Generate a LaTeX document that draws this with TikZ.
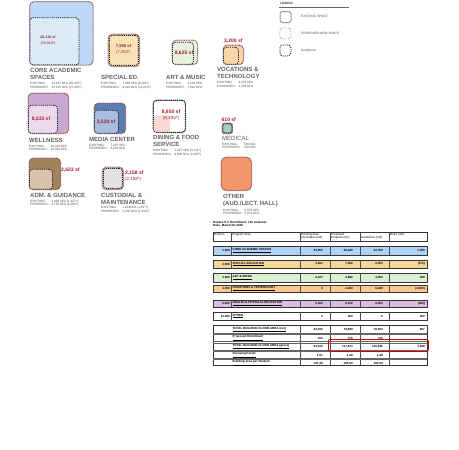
\documentclass[tikz,border=0pt]{standalone}
\usepackage{fontspec}
\setmainfont{Liberation Sans}
\usetikzlibrary{positioning}
\definecolor{areaRed}{HTML}{A3192F}
\definecolor{coreBlue}{HTML}{BCD9F7}
\definecolor{coreBlueLt}{HTML}{DDEBF9}
\definecolor{specTan}{HTML}{F7E3B5}
\definecolor{artGreen}{HTML}{E8F2E1}
\definecolor{vocPeach}{HTML}{FAD5AA}
\definecolor{wellPurple}{HTML}{C9A9D2}
\definecolor{wellPurpleLt}{HTML}{EBDAEE}
\definecolor{mediaBlue}{HTML}{5B7DB3}
\definecolor{mediaBlueLt}{HTML}{A9BDE0}
\definecolor{diningPink}{HTML}{F9D9D2}
\definecolor{medTeal}{HTML}{A6CFC0}
\definecolor{admBrown}{HTML}{A2825F}
\definecolor{admBrownLt}{HTML}{D6C3AA}
\definecolor{custGray}{HTML}{E2E2E2}
\definecolor{otherOrange}{HTML}{F4976A}
\definecolor{tabBlue}{HTML}{AFD3F5}
\definecolor{tabTan}{HTML}{F3D79A}
\definecolor{tabGreen}{HTML}{DCEFD4}
\definecolor{tabOrange}{HTML}{F9C98E}
\definecolor{tabPurple}{HTML}{D9BEDF}

\begin{document}
\begin{tikzpicture}[
  x=1pt, y=-1pt,
  newspace/.style={
    draw=areaRed, densely dotted, line width=0.7pt, rounded corners=4pt,
    preaction={draw=black!35, solid, line width=1.5pt}, inner sep=0pt
  },
  guide/.style={
    draw=black!85, dash pattern=on 1.2pt off 0.9pt, line width=0.8pt,
    rounded corners=3pt, inner sep=0pt
  },
  areatxt/.style={text=areaRed, font=\bfseries\fontsize{5}{5}\selectfont, inner sep=0pt},
  areanote/.style={text=areaRed, font=\fontsize{4.5}{4.5}\selectfont, inner sep=0pt},
  progname/.style={
    anchor=north west, align=left, text=black!62, inner sep=0pt,
    font=\bfseries\fontsize{6}{6.8}\selectfont
  },
  nfa/.style={anchor=north west, text=black!70, inner sep=0pt, font=\fontsize{3.1}{3.9}\selectfont},
  legtxt/.style={anchor=west, text=black!70, inner sep=0pt, font=\fontsize{3.2}{3.2}\selectfont},
  tabtxt/.style={inner sep=0pt, font=\fontsize{3}{3.4}\selectfont},
  tabbold/.style={inner sep=0pt, font=\bfseries\fontsize{3}{3.4}\selectfont},
]
\useasboundingbox[fill=white] (0,0) rectangle (459,450);

% Core academic spaces
\node[newspace, fill=coreBlue, minimum width=63pt, minimum height=63pt, anchor=north west] (coreBox) at (29.5,1.5) {};
\node[guide, fill=coreBlueLt, minimum width=49pt, minimum height=47pt, anchor=south west] (coreGuide) at (coreBox.south west) {};
\node[areatxt, font=\bfseries\fontsize{3.6}{3.6}\selectfont] (coreArea) at (48,37) {26,110 sf};
\node[areanote, font=\fontsize{3.6}{3.6}\selectfont, below=2.5pt of coreArea] (coreNote) {(30,910*)};
\node[progname] (coreName) at (30,68) {CORE ACADEMIC\\SPACES};
\node[nfa, below=2pt of coreName.south west, anchor=north west] (coreNfa) {%
  \begin{tabular}{@{}l@{\hspace{3pt}}l@{}}EXISTING: & 41,337 NFA (45,407*)\\PROPOSED: & 43,135 NFA (47,935*)\end{tabular}};

% Special education
\node[newspace, fill=specTan, minimum width=31pt, minimum height=32pt, anchor=north west] (specBox) at (108,34) {};
\node[guide, fill=specTan, minimum width=29pt, minimum height=30pt] (specGuide) at (specBox.center) {};
\node[areatxt, font=\bfseries\fontsize{4.2}{4.2}\selectfont] (specArea) at (123.5,46) {7,550 sf};
\node[areanote, font=\fontsize{4}{4}\selectfont, below=2.5pt of specArea] (specNote) {(7,550*)};
\node[progname] (specName) at (101,75) {SPECIAL ED.};
\node[nfa, below=2pt of specName.south west, anchor=north west] (specNfa) {%
  \begin{tabular}{@{}l@{\hspace{3pt}}l@{}}EXISTING: & 7,266 NFA (8,326*)\\PROPOSED: & 9,216 NFA (10,210*)\end{tabular}};

% Art & music
\node[newspace, fill=artGreen, minimum width=25pt, minimum height=24pt, anchor=north west] (artBox) at (172,40) {};
\node[guide, fill=artGreen, minimum width=21pt, minimum height=22pt, anchor=south west] (artGuide) at (artBox.south west) {};
\node[areatxt] (artArea) at (184,53) {8,625 sf};
\node[progname] (artName) at (166,75) {ART \& MUSIC};
\node[nfa, below=2pt of artName.south west, anchor=north west] (artNfa) {%
  \begin{tabular}{@{}l@{\hspace{3pt}}l@{}}EXISTING: & 4,234 NFA\\PROPOSED: & 7,810 NFA\end{tabular}};

% Vocations & technology
\node[newspace, fill=vocPeach, minimum width=20pt, minimum height=19pt, anchor=north west] (vocBox) at (223,45) {};
\node[guide, fill=vocPeach, minimum width=15pt, minimum height=17pt, anchor=south west] (vocGuide) at (vocBox.south west) {};
\node[areatxt, above=1.5pt of vocBox] (vocArea) {3,200 sf};
\node[progname] (vocName) at (217,67) {VOCATIONS \&\\TECHNOLOGY};
\node[nfa, below=2pt of vocName.south west, anchor=north west] (vocNfa) {%
  \begin{tabular}{@{}l@{\hspace{3pt}}l@{}}EXISTING: & 4,479 NFA\\PROPOSED: & 4,200 NFA\end{tabular}};

% Legend
\node[anchor=west, inner sep=0pt, font=\bfseries\fontsize{3}{3}\selectfont, text=black!80] (legTitle) at (280,3) {LEGEND};
\coordinate (legL) at (279,7);
\coordinate (legR) at (349,7);
\draw[black!60, line width=0.6pt] (legL) -- (legR);
\node[draw=black!40, line width=1pt, rounded corners=2.5pt, minimum width=11pt, minimum height=11pt, anchor=north west] (legExist) at (279.5,11) {};
\node[draw=red!70, densely dotted, line width=0.7pt, rounded corners=2.5pt, minimum width=11pt, minimum height=11pt, anchor=north west] (legNew) at (279.5,27.5) {};
\node[guide, minimum width=11pt, minimum height=11pt, anchor=north west] (legGuide) at (279.5,44.5) {};
\node[legtxt] (legExistTxt) at (301,16) {EXISTING SPACE};
\node[legtxt] (legNewTxt) at (301,33) {PROPOSED NEW SPACE};
\node[legtxt] (legGuideTxt) at (301,50.5) {Guidelines};

% Wellness
\node[newspace, fill=wellPurple, minimum width=40pt, minimum height=40pt, anchor=north west] (wellBox) at (28,93) {};
\node[guide, fill=wellPurpleLt, minimum width=29pt, minimum height=28pt, anchor=south west] (wellGuide) at (wellBox.south west) {};
\node[areatxt] (wellArea) at (41,119) {8,333 sf};
\node[progname] (wellName) at (29,138) {WELLNESS};
\node[nfa, below=1.5pt of wellName.south west, anchor=north west] (wellNfa) {%
  \begin{tabular}{@{}l@{\hspace{3pt}}l@{}}EXISTING: & 19,320 NFA\\PROPOSED: & 18,360 NFA\end{tabular}};

% Media center
\node[newspace, fill=mediaBlue, minimum width=31pt, minimum height=30pt, anchor=north west] (mediaBox) at (94,103) {};
\node[guide, fill=mediaBlueLt, minimum width=24pt, minimum height=23pt, anchor=south west] (mediaGuide) at (mediaBox.south west) {};
\node[areatxt] (mediaArea) at (106,122) {3,520 sf};
\node[progname] (mediaName) at (89,137) {MEDIA CENTER};
\node[nfa, below=1.5pt of mediaName.south west, anchor=north west] (mediaNfa) {%
  \begin{tabular}{@{}l@{\hspace{3pt}}l@{}}EXISTING: & 7,207 NFA\\PROPOSED: & 6,220 NFA\end{tabular}};

% Dining & food service
\node[newspace, fill=white, minimum width=32pt, minimum height=32pt, anchor=north west] (dinBox) at (153,100) {};
\node[fill=diningPink, rounded corners=2pt, minimum width=17pt, minimum height=17pt, inner sep=0pt, anchor=south west] (dinOld) at (dinBox.south west) {};
\node[guide, minimum width=32pt, minimum height=32pt] (dinGuide) at (dinBox.center) {};
\node[areatxt] (dinArea) at (171,112) {8,650 sf};
\node[areanote, below=2pt of dinArea] (dinNote) {(9,195*)};
\node[progname] (dinName) at (153,135.5) {DINING \& FOOD\\SERVICE};
\node[nfa, below=1.5pt of dinName.south west, anchor=north west] (dinNfa) {%
  \begin{tabular}{@{}l@{\hspace{3pt}}l@{}}EXISTING: & 2,937 NFA (3,112*)\\PROPOSED: & 8,608 NFA (9,195*)\end{tabular}};

% Medical
\node[newspace, fill=medTeal, rounded corners=2pt, minimum width=10pt, minimum height=10pt, anchor=north west] (medBox) at (222,123) {};
\node[guide, rounded corners=2pt, minimum width=9pt, minimum height=9pt] (medGuide) at (medBox.center) {};
\node[areatxt, anchor=west] (medArea) at (221.5,119.5) {610 sf};
\node[progname, font=\fontsize{6}{6.8}\selectfont] (medName) at (222,136) {MEDICAL};
\node[nfa, below=1.5pt of medName.south west, anchor=north west] (medNfa) {%
  \begin{tabular}{@{}l@{\hspace{3pt}}l@{}}EXISTING: & 740 NFA\\PROPOSED: & 750 NFA\end{tabular}};

% Adm. & guidance
\node[newspace, fill=admBrown, minimum width=31pt, minimum height=31pt, anchor=north west] (admBox) at (29,158) {};
\node[guide, fill=admBrownLt, minimum width=23pt, minimum height=20pt, anchor=south west] (admGuide) at (admBox.south west) {};
\node[areatxt, anchor=west] (admArea) at (61,170) {2,623 sf};
\node[progname] (admName) at (30,193) {ADM. \& GUIDANCE};
\node[nfa, below=1.5pt of admName.south west, anchor=north west] (admNfa) {%
  \begin{tabular}{@{}l@{\hspace{3pt}}l@{}}EXISTING: & 3,096 NFA (1,417*)\\PROPOSED: & 3,750 NFA (6,003*)\end{tabular}};

% Custodial & maintenance
\node[newspace, fill=custGray, minimum width=21pt, minimum height=22pt, anchor=north west] (custBox) at (102,167) {};
\node[guide, fill=custGray, minimum width=19pt, minimum height=20pt] (custGuide) at (custBox.center) {};
\node[areatxt, anchor=west] (custArea) at (125,173) {2,158 sf};
\node[areanote, anchor=west] (custNote) at (125,179) {(2,158*)};
\node[progname] (custName) at (101,193) {CUSTODIAL \&\\MAINTENANCE};
\node[nfa, below=1.5pt of custName.south west, anchor=north west] (custNfa) {%
  \begin{tabular}{@{}l@{\hspace{3pt}}l@{}}EXISTING: & 1,934NFA (1,837*)\\PROPOSED: & 2,038 NFA (2,158*)\end{tabular}};

% Other
\node[newspace, fill=otherOrange, rounded corners=5pt, minimum width=30pt, minimum height=33pt, anchor=north west] (othBox) at (221,157) {};
\node[progname] (othName) at (223,194) {OTHER\\(AUD./LECT. HALL)};
\node[nfa, below=1.5pt of othName.south west, anchor=north west] (othNfa) {%
  \begin{tabular}{@{}l@{\hspace{3pt}}l@{}}EXISTING: & 5,073 NFA\\PROPOSED: & 5,073 NFA\end{tabular}};

% Table
\node[tabbold, anchor=north west, align=left] (tabTitle) at (213,221) {Grades 5-7, Enrollment: 715 students\\Date: March 30, 2010};
\draw[black!80, line width=0.5pt] (213,232) rectangle (427,241);
\foreach \cx in {231,300,330,360,389} \draw[black!70, line width=0.4pt] (\cx,232) -- (\cx,241);
\node[tabtxt, anchor=north west] (hDiv) at (214,233) {Division};
\node[tabtxt, anchor=north west] (hProg) at (232,233) {Program Area};
\node[tabtxt, anchor=north west, align=left] (hEx) at (301,233) {Existing Area\\(3) Grades (nsf)};
\node[tabtxt, anchor=north west, align=left] (hPr) at (331,233) {Proposed\\Program (nsf)};
\node[tabtxt, anchor=north west] (hGu) at (361,236.5) {Guidelines (nsf)};
\node[tabtxt, anchor=north west] (hDe) at (390,233) {Delta (nsf)};

\foreach \yt/\yb/\clr/\num/\prog/\ex/\pr/\gu/\de [count=\i] in {
  246/255/tabBlue/1.000/CORE ACADEMIC SPACES/{35,653}/{40,220}/{32,760}/{7,460},
  260/268/tabTan/2.000/SPECIAL EDUCATION/{3,261}/{7,480}/{8,050}/(570),
  273/282/tabGreen/3.000/ART \& MUSIC/{2,327}/{4,880}/{4,500}/380,
  285/292/tabOrange/4.000/VOCATIONS \& TECHNOLOGY/0/{2,400}/{6,400}/{(4,000)},
  300/307/tabPurple/5.000/HEALTH \& PHYSICAL EDUCATION/{5,360}/{8,150}/{8,450}/(300),
  312/320/white/11.000/OTHER/0/450/0/450} {
  \draw[black!80, line width=0.5pt, fill=\clr] (213,\yt) rectangle (427,\yb);
  \foreach \cx in {231,300,330,360,389} \draw[black!70, line width=0.4pt] (\cx,\yt) -- (\cx,\yb);
  \node[tabbold, anchor=east] (rowNum\i) at (230,{(\yt+\yb)/2}) {\num};
  \node[tabbold, anchor=west] (rowProg\i) at (232.5,{(\yt+\yb)/2}) {\underline{\prog}};
  \node[tabbold, anchor=east] (rowEx\i) at (323,{(\yt+\yb)/2}) {\ex};
  \node[tabbold, anchor=east] (rowPr\i) at (353,{(\yt+\yb)/2}) {\pr};
  \node[tabbold, anchor=east] (rowGu\i) at (383,{(\yt+\yb)/2}) {\gu};
  \node[tabbold, anchor=east] (rowDe\i) at (425,{(\yt+\yb)/2}) {\de};
}

% Totals block
\draw[black!80, line width=0.5pt] (213,325.5) rectangle (427,365);
\foreach \cx in {300,330,360,389} \draw[black!70, line width=0.4pt] (\cx,325.5) -- (\cx,365);
\foreach \ly in {333,341.5,350,358} {
  \draw[black!60, line width=0.3pt] (213,\ly) -- (427,\ly);
  \draw[black!60, line width=0.3pt] (213,\ly+1.2) -- (427,\ly+1.2);
}
\foreach \yc/\lbl/\ex/\pr/\gu/\de [count=\i] in {
  329.5/TOTAL BUILDING FLOOR AREA (net)/{42,535}/{79,890}/{78,923}/967,
  338/Proposed Enrollment/434/715/715/{},
  346.5/TOTAL BUILDING FLOOR AREA (gross)/{64,010}/{117,973}/{116,545}/{1,428},
  355/Grossing Factor/1.51/1.48/1.48/{},
  363/Building Area per Student/147.49/165.00/163.00/{}} {
  \node[tabbold, anchor=west] (totLbl\i) at (232.5,\yc) {\underline{\lbl}};
  \node[tabbold, anchor=east] (totEx\i) at (323,\yc) {\ex};
  \node[tabbold, anchor=east] (totPr\i) at (353,\yc) {\pr};
  \node[tabbold, anchor=east] (totGu\i) at (383,\yc) {\gu};
  \node[tabbold, anchor=east] (totDe\i) at (425,\yc) {\de};
}
\node[draw=red!80!black, line width=0.8pt, rounded corners=2pt, minimum width=100pt, minimum height=12pt, inner sep=0pt, anchor=north west] (grossMark) at (328,339) {};

\end{tikzpicture}
\end{document}
